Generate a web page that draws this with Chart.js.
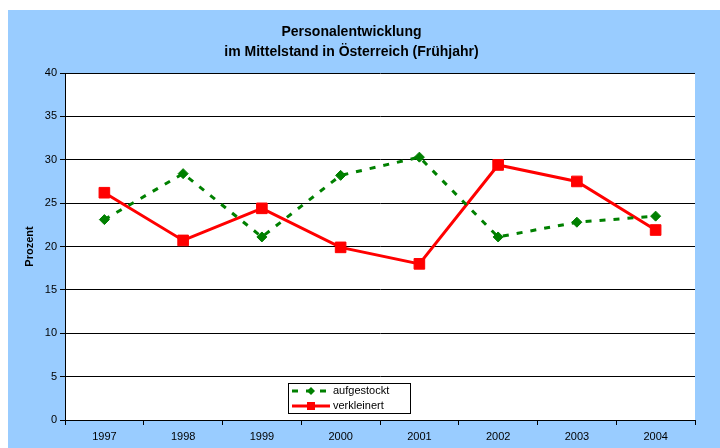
<!DOCTYPE html>
<html>
<head>
<meta charset="utf-8">
<script src="https://cdn.jsdelivr.net/npm/chart.js@4"></script>
<style>
  html, body { margin: 0; padding: 0; background: #fff; }
  #wrap { position: absolute; left: 8px; top: 10px; width: 712px; height: 438px; background: #99CCFF; }
</style>
</head>
<body>
<div id="wrap"><canvas id="chart" width="712" height="438"></canvas></div>
<script>
  // Data
  const years = ['1997', '1998', '1999', '2000', '2001', '2002', '2003', '2004'];
  const aufgestockt = [23.1, 28.4, 21.1, 28.2, 30.3, 21.1, 22.8, 23.5];
  const verkleinert = [26.2, 20.7, 24.4, 19.9, 18.0, 29.4, 27.5, 21.9];
  const titleLines = ['Personalentwicklung', 'im Mittelstand in Österreich (Frühjahr)'];

  const fontFamily = '"Liberation Sans", Arial, sans-serif';

  // white plot area
  const plotBg = {
    id: 'plotBg',
    beforeDraw(chart) {
      const a = chart.chartArea, ctx = chart.ctx;
      ctx.save();
      ctx.fillStyle = '#fff';
      ctx.fillRect(a.left, a.top, a.right - a.left, a.bottom - a.top);
      ctx.restore();
    }
  };

  // legend box inside the plot, like the original
  const boxLegend = {
    id: 'boxLegend',
    afterDraw(chart) {
      const ctx = chart.ctx;
      const x = 280, y = 373, w = 122, h = 30;
      ctx.save();
      ctx.fillStyle = '#fff';
      ctx.fillRect(x, y, w, h);
      ctx.strokeStyle = '#000';
      ctx.lineWidth = 1;
      ctx.strokeRect(x + 0.5, y + 0.5, w, h);
      ctx.font = '11px ' + fontFamily;
      ctx.textBaseline = 'middle';
      chart.data.datasets.forEach(function(ds, i) {
        const cy = y + 8 + i * 15;
        ctx.strokeStyle = ds.borderColor;
        ctx.lineWidth = 3;
        ctx.setLineDash(ds.borderDash || []);
        ctx.beginPath();
        ctx.moveTo(x + 4, cy);
        ctx.lineTo(x + 42, cy);
        ctx.stroke();
        ctx.setLineDash([]);
        ctx.fillStyle = ds.pointBackgroundColor;
        if (ds.pointStyle === 'rectRot') {
          ctx.beginPath();
          ctx.moveTo(x + 23 - 4, cy);
          ctx.lineTo(x + 23, cy - 4);
          ctx.lineTo(x + 23 + 4, cy);
          ctx.lineTo(x + 23, cy + 4);
          ctx.closePath();
          ctx.fill();
        } else {
          ctx.fillRect(x + 23 - 4, cy - 4, 8, 8);
        }
        ctx.fillStyle = '#000';
        ctx.fillText(ds.label, x + 45, cy);
      });
      ctx.restore();
    }
  };

  const ctx = document.getElementById('chart').getContext('2d');
  new Chart(ctx, {
    type: 'line',
    data: {
      labels: years,
      datasets: [
        {
          label: 'aufgestockt',
          data: aufgestockt,
          borderColor: '#008000',
          backgroundColor: '#008000',
          pointBackgroundColor: '#008000',
          pointBorderColor: '#008000',
          borderWidth: 3,
          borderDash: [6, 8],
          pointStyle: 'rectRot',
          pointRadius: 5,
          pointBorderWidth: 1,
          tension: 0
        },
        {
          label: 'verkleinert',
          data: verkleinert,
          borderColor: '#FF0000',
          backgroundColor: '#FF0000',
          pointBackgroundColor: '#FF0000',
          pointBorderColor: '#FF0000',
          borderWidth: 3,
          pointStyle: 'rect',
          pointRadius: 7.5,
          pointBorderWidth: 1,
          tension: 0
        }
      ]
    },
    options: {
      responsive: false,
      animation: false,
      layout: { padding: { left: 0, right: 25, top: 0, bottom: 0 } },
      plugins: {
        legend: { display: false },
        tooltip: { enabled: false },
        title: {
          display: true,
          text: titleLines,
          color: '#000',
          font: { family: fontFamily, size: 14, weight: 'bold', lineHeight: '20px' },
          padding: { top: 12, bottom: 11 }
        }
      },
      scales: {
        x: {
          offset: true,
          grid: { offset: true, drawOnChartArea: false, drawTicks: true, tickLength: 5, color: '#000' },
          border: { color: '#000', width: 1 },
          ticks: { color: '#000', font: { family: fontFamily, size: 11 }, padding: 5, maxRotation: 0 },
          afterFit(scale) { scale.height = 28; }
        },
        y: {
          min: 0,
          max: 40,
          ticks: { stepSize: 5, color: '#000', font: { family: fontFamily, size: 11 }, padding: 3 },
          grid: { color: '#000', tickLength: 5 },
          border: { color: '#000', width: 1 },
          title: {
            display: true,
            text: 'Prozent',
            color: '#000',
            font: { family: fontFamily, size: 11, weight: 'bold' },
            padding: { top: 15, bottom: 0 }
          },
          afterFit(scale) { scale.width = 57; }
        }
      }
    },
    plugins: [plotBg, boxLegend]
  });
</script>
</body>
</html>
